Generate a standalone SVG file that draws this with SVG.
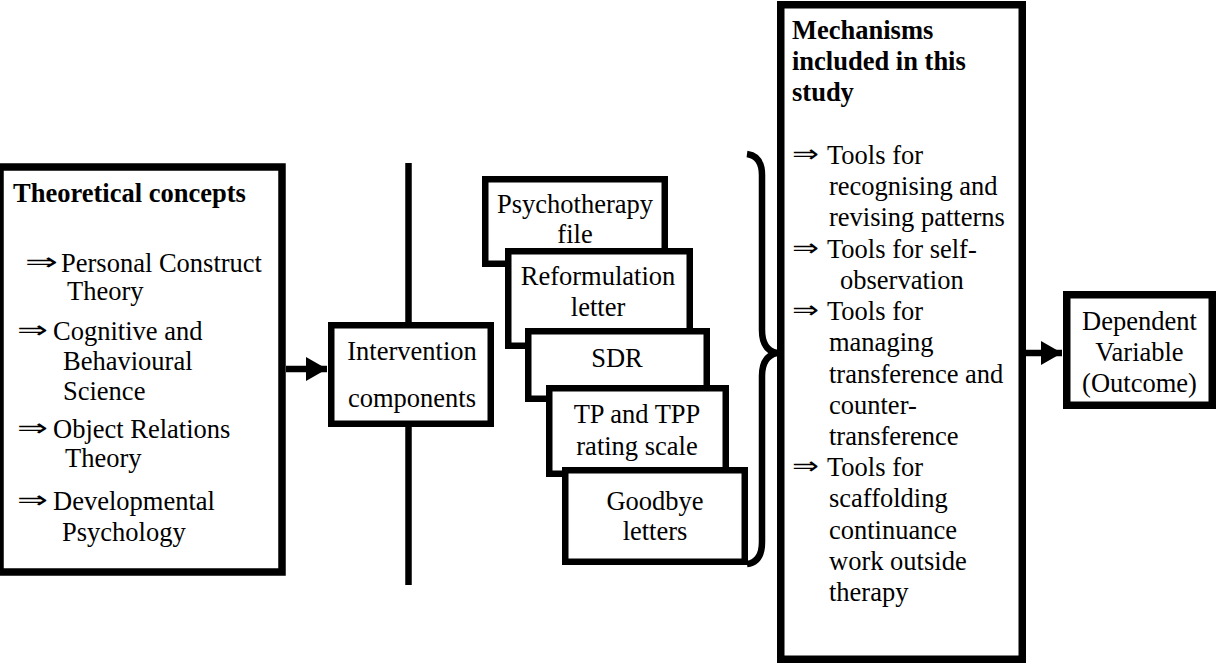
<svg xmlns="http://www.w3.org/2000/svg" width="1217" height="665" viewBox="0 0 1217 665">
<defs>
<style>
.box{fill:#fff;stroke:#000;stroke-width:7.5}
.sbox{fill:#fff;stroke:#000;stroke-width:6.5}
.t{font-family:"Liberation Serif","DejaVu Serif","Times New Roman",serif;font-size:26.5px;fill:#000}
.b{font-weight:bold}
.m{text-anchor:middle}
.ar{font-family:"DejaVu Sans",sans-serif;font-size:24px;fill:#000}
.ln{stroke:#000;stroke-width:6.5;fill:none}
</style>
<marker id="ah" markerUnits="userSpaceOnUse" markerWidth="22" markerHeight="24" refX="21" refY="12" orient="auto">
<path d="M0,0 L21,12 L0,24 Z" fill="#000"/>
</marker>
</defs>
<rect width="1217" height="665" fill="#fff"/>

<g id="connectors">
<line class="ln" x1="408.5" y1="163" x2="408.5" y2="585"/>
<line class="ln" x1="286" y1="369" x2="327" y2="369" marker-end="url(#ah)"/>
<line class="ln" x1="1026" y1="353" x2="1062" y2="353" marker-end="url(#ah)"/>
<path class="ln" d="M747,154 Q762,156 762,175 L762,330 Q762,350 777,353 Q762,356 762,376 L762,542 Q762,562 747,564"/>
</g>

<g id="theoretical">
<rect class="box" x="0" y="167" width="282" height="405"/>
<text class="t b" x="13" y="202">Theoretical concepts</text>
<text class="ar" x="25" y="270" textLength="33" lengthAdjust="spacingAndGlyphs">⇒</text>
<text class="t" x="61" y="272">Personal Construct</text>
<text class="t" x="67" y="300">Theory</text>
<text class="ar" x="17" y="338" textLength="31" lengthAdjust="spacingAndGlyphs">⇒</text>
<text class="t" x="53" y="340">Cognitive and</text>
<text class="t" x="63" y="370">Behavioural</text>
<text class="t" x="63" y="400">Science</text>
<text class="ar" x="17" y="436" textLength="31" lengthAdjust="spacingAndGlyphs">⇒</text>
<text class="t" x="53" y="438">Object Relations</text>
<text class="t" x="65" y="467">Theory</text>
<text class="ar" x="17" y="508" textLength="31" lengthAdjust="spacingAndGlyphs">⇒</text>
<text class="t" x="53" y="510">Developmental</text>
<text class="t" x="62" y="541">Psychology</text>
</g>

<g id="intervention">
<rect class="sbox" x="331.25" y="325.25" width="159.5" height="98.5"/>
<text class="t m" x="412" y="360">Intervention</text>
<text class="t m" x="412" y="407">components</text>
</g>

<g id="psychotherapy-file">
<rect class="sbox" x="485.25" y="179.25" width="179.5" height="84.5"/>
<text class="t m" x="575" y="213">Psychotherapy</text>
<text class="t m" x="575" y="243">file</text>
</g>

<g id="reformulation-letter">
<rect class="sbox" x="508.25" y="251.25" width="181.5" height="94.5"/>
<text class="t m" x="598" y="285">Reformulation</text>
<text class="t m" x="598" y="316">letter</text>
</g>

<g id="sdr">
<rect class="sbox" x="528.25" y="331.25" width="178.5" height="67.5"/>
<text class="t m" x="617" y="367">SDR</text>
</g>

<g id="tp-tpp">
<rect class="sbox" x="549.25" y="388.25" width="176.5" height="85.5"/>
<text class="t m" x="637" y="423">TP and TPP</text>
<text class="t m" x="637" y="455">rating scale</text>
</g>

<g id="goodbye-letters">
<rect class="sbox" x="565.25" y="470.25" width="179.5" height="91.5"/>
<text class="t m" x="655" y="510">Goodbye</text>
<text class="t m" x="655" y="540">letters</text>
</g>

<g id="mechanisms">
<rect class="box" x="780.75" y="4.75" width="241.5" height="654.5"/>
<text class="t b" x="792" y="39">Mechanisms</text>
<text class="t b" x="792" y="70">included in this</text>
<text class="t b" x="792" y="101">study</text>
<text class="ar" x="792" y="162" textLength="27" lengthAdjust="spacingAndGlyphs">⇒</text>
<text class="t" x="827" y="164">Tools for</text>
<text class="t" x="829" y="195">recognising and</text>
<text class="t" x="829" y="226">revising patterns</text>
<text class="ar" x="792" y="256" textLength="27" lengthAdjust="spacingAndGlyphs">⇒</text>
<text class="t" x="827" y="258">Tools for self-</text>
<text class="t" x="840" y="289">observation</text>
<text class="ar" x="792" y="318" textLength="27" lengthAdjust="spacingAndGlyphs">⇒</text>
<text class="t" x="827" y="320">Tools for</text>
<text class="t" x="829" y="351">managing</text>
<text class="t" x="829" y="383">transference and</text>
<text class="t" x="829" y="414">counter-</text>
<text class="t" x="829" y="445">transference</text>
<text class="ar" x="792" y="474" textLength="27" lengthAdjust="spacingAndGlyphs">⇒</text>
<text class="t" x="827" y="476">Tools for</text>
<text class="t" x="829" y="507">scaffolding</text>
<text class="t" x="829" y="539">continuance</text>
<text class="t" x="829" y="570">work outside</text>
<text class="t" x="829" y="601">therapy</text>
</g>

<g id="dependent-variable">
<rect class="box" x="1066.75" y="294.75" width="145.5" height="110.5"/>
<text class="t m" x="1139.5" y="330">Dependent</text>
<text class="t m" x="1139.5" y="361">Variable</text>
<text class="t m" x="1139.5" y="392">(Outcome)</text>
</g>
</svg>
